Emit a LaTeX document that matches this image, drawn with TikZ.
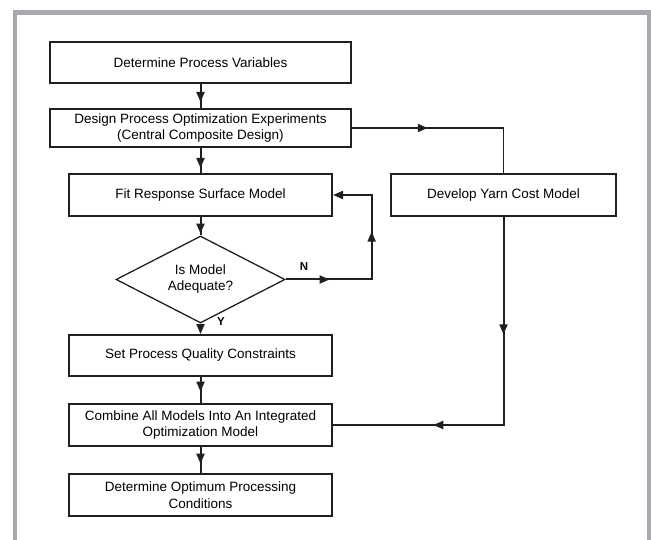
\documentclass[tikz,border=0pt]{standalone}
\usepackage{fontspec}
\setmainfont{Liberation Sans}
\usetikzlibrary{arrows.meta,shapes.geometric,decorations.markings}

\definecolor{linecol}{HTML}{231F20}
\definecolor{framecol}{HTML}{A7A9AC}

\tikzset{
  stepbox/.style={draw=linecol, line width=2pt, inner sep=0pt, align=center,
    minimum width=263pt, minimum height=42pt,
    font=\fontsize{13.5}{16.5}\selectfont},
  widebox/.style={stepbox, minimum width=301pt},
  decision/.style={draw=linecol, line width=1.3pt, diamond, aspect=2, inner sep=0pt,
    minimum width=169pt, minimum height=87pt, align=center,
    font=\fontsize{13.5}{16}\selectfont},
  flow/.style={draw=linecol, line width=2pt},
  thinflow/.style={draw=linecol, line width=1pt},
  tip/.style={-{Triangle[length=10pt,width=8pt]}},
  midarrow/.style={postaction={decorate,decoration={markings,
    mark=at position #1 with {\arrow{Triangle[length=10pt,width=8pt]}}}}},
  midarrow/.default=0.5,
  flag/.style={inner sep=0pt, font=\fontsize{11.5}{12}\selectfont\bfseries}
}

\begin{document}
\begin{tikzpicture}[x=1pt,y=-1pt]
  \useasboundingbox (0,0) rectangle (651,540);
  % grey frame, open at the bottom
  \draw[framecol, line width=4.5pt] (15,545) -- (15,12.5) -- (649.5,12.5) -- (649.5,545);

  \def\xl{200.5};
  \def\xr{503.5};
  % left column
  \node[widebox, minimum height=41pt] (vars) at (\xl,62.5) {Determine Process Variables};
  \node[widebox, minimum height=38pt] (design) at (\xl,128)
    {Design Process Optimization Experiments\\(Central Composite Design)};
  \node[stepbox] (fit) at (\xl,195) {Fit Response Surface Model};
  \node[decision] (adequate) at (\xl,279.5) {Is Model\\Adequate?};
  \node[stepbox, minimum height=41pt] (constraints) at (\xl,355.5) {Set Process Quality Constraints};
  \node[stepbox] (combine) at (\xl,425) {Combine All Models Into An Integrated\\Optimization Model};
  \node[stepbox] (optimum) at (\xl,495) {Determine Optimum Processing\\Conditions};
  % right column
  \node[stepbox, minimum width=225pt] (yarn) at (\xr,195) {Develop Yarn Cost Model};

  % main flow
  \draw[flow, midarrow=0.75] (vars) -- (design);
  \draw[flow, midarrow=0.8] (design) -- (fit);
  \draw[flow, midarrow=0.9] (fit) -- (adequate);
  \draw[flow, tip] (adequate) -- (constraints);
  \draw[flow, midarrow=0.56] (constraints) -- (combine);
  \draw[flow, midarrow=0.64] (combine) -- (optimum);

  % N loop back to the model fit
  \draw[flow, tip, midarrow=0.21, midarrow=0.64] (adequate.east) -- ++(86,0) |- (fit.east);
  \node[flag] (nlab) at (304,267) {N};
  \node[flag] (ylab) at (221,322) {Y};

  % cost model branch
  \draw[flow, midarrow=0.5] (design.east) -- (design.east -| yarn.north);
  \draw[thinflow] (design.east -| yarn.north) -- (yarn.north);
  \draw[flow, midarrow=0.31, midarrow=0.735] (yarn.south) |- (combine.east);
\end{tikzpicture}
\end{document}
